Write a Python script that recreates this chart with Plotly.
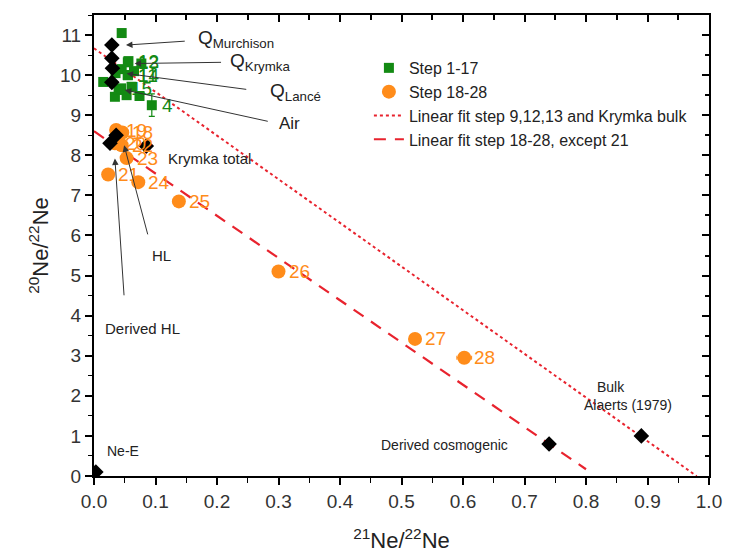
import plotly.graph_objects as go

# ---------------- data ----------------
step1_labels = ["1", "2", "3", "4", "5", "6", "7", "8", "9", "10", "11", "12", "13", "14", "15", "16", "17"]
step1_x = [0.045, 0.015, 0.034, 0.094, 0.053, 0.074, 0.040, 0.061, 0.045, 0.065, 0.055, 0.056, 0.055, 0.055, 0.044, 0.077, 0.035]
step1_y = [11.05, 9.83, 9.46, 9.25, 9.50, 9.48, 9.63, 9.71, 10.15, 10.10, 10.00, 10.35, 10.32, 10.00, 9.67, 10.29, 10.05]
step1_err = [0.05, 0.05, 0.05, 0.28, 0.05, 0.05, 0.05, 0.05, 0.05, 0.05, 0.05, 0.05, 0.05, 0.05, 0.05, 0.05, 0.05]
step1_shown = ["", "", "", "4", "", "", "", "", "", "", "11", "12", "13", "14", "15", "", ""]

step2_labels = ["18", "19", "20", "21", "22", "23", "24", "25", "26", "27", "28"]
step2_x = [0.046, 0.036, 0.034, 0.023, 0.045, 0.053, 0.072, 0.138, 0.300, 0.522, 0.602]
step2_y = [8.57, 8.63, 8.30, 7.52, 8.25, 7.93, 7.33, 6.85, 5.10, 3.42, 2.95]
step2_errx = [0.003, 0.003, 0.003, 0.003, 0.003, 0.003, 0.003, 0.003, 0.004, 0.006, 0.012]

ref_names = ["Q Murchison", "Q Krymka", "Q Lancé", "Air", "HL", "Derived HL", "Krymka total",
             "Ne-E", "Derived cosmogenic", "Bulk Alaerts (1979)"]
ref_x = [0.029, 0.029, 0.030, 0.029, 0.036, 0.026, 0.085, 0.003, 0.740, 0.890]
ref_y = [10.75, 10.42, 10.17, 9.82, 8.50, 8.30, 8.23, 0.10, 0.80, 1.00]

# linear fits: intercept, slope, x extent
fit1_name = "Linear fit step 9,12,13 and Krymka bulk"
fit1_intercept, fit1_slope, fit1_xmax = 10.67, -10.89, 0.98
fit2_name = "Linear fit step 18-28, except 21"
fit2_intercept, fit2_slope, fit2_xmax = 8.60, -10.54, 0.80

x_ticks = [0.0, 0.1, 0.2, 0.3, 0.4, 0.5, 0.6, 0.7, 0.8, 0.9, 1.0]
y_ticks = list(range(0, 12))

GREEN = "#138a13"
ORANGE = "#ff8c1a"
RED = "#e8232e"
FONT = "Liberation Sans, Arial, sans-serif"

fig = go.Figure()

# fit lines
fx1 = [0.0, fit1_xmax]
fig.add_trace(go.Scatter(x=fx1, y=[fit1_intercept + fit1_slope * v for v in fx1], mode="lines",
                         line=dict(color=RED, width=2, dash="dot"), name=fit1_name, legendrank=3))
fx2 = [0.0, fit2_xmax]
fig.add_trace(go.Scatter(x=fx2, y=[fit2_intercept + fit2_slope * v for v in fx2], mode="lines",
                         line=dict(color=RED, width=2.2, dash="12px,9px"), name=fit2_name, legendrank=4))

# step 1-17
fig.add_trace(go.Scatter(x=step1_x, y=step1_y, mode="markers", name="Step 1-17",
                         marker=dict(symbol="square", size=10, color=GREEN),
                         error_y=dict(type="data", array=step1_err, color=GREEN, thickness=1.2, width=3),
                         text=step1_labels, legendrank=1))
# step 18-28
fig.add_trace(go.Scatter(x=step2_x, y=step2_y, mode="markers", name="Step 18-28",
                         marker=dict(symbol="circle", size=14, color=ORANGE),
                         error_x=dict(type="data", array=step2_errx, color=ORANGE, thickness=1, width=2),
                         text=step2_labels, legendrank=2))
# reference components
fig.add_trace(go.Scatter(x=ref_x, y=ref_y, mode="markers", showlegend=False, text=ref_names,
                         marker=dict(symbol="diamond", size=12, color="black")))

# invisible trace for the mirrored (top/right) axes
fig.add_trace(go.Scatter(x=[None], y=[None], xaxis="x2", yaxis="y2", showlegend=False, hoverinfo="skip"))

ann = []
for lab, x, y in zip(step1_shown, step1_x, step1_y):
    if lab:
        ann.append(dict(x=x, y=y, text=lab, showarrow=False, xanchor="left", xshift=8,
                        font=dict(family=FONT, size=19, color=GREEN)))
for lab, x, y in zip(step2_labels, step2_x, step2_y):
    ann.append(dict(x=x, y=y, text=lab, showarrow=False, xanchor="left", xshift=8,
                    font=dict(family=FONT, size=19, color=ORANGE)))

# arrows (head, tail) in data coordinates
arrows = [((0.052, 10.75), (0.150, 10.85)),
          ((0.066, 10.29), (0.209, 10.32)),
          ((0.053, 10.04), (0.250, 9.64)),
          ((0.050, 9.63), (0.285, 8.84)),
          ((0.049, 8.25), (0.088, 5.99)),
          ((0.034, 7.92), (0.049, 4.47))]
for (hx, hy), (tx, ty) in arrows:
    ann.append(dict(x=hx, y=hy, ax=tx, ay=ty, axref="x", ayref="y", showarrow=True,
                    arrowhead=2, arrowsize=1.3, arrowwidth=1, arrowcolor="#333", text=""))

txt = "#222"
labels = [
    (0.166, 10.9, "Q<sub>Murchison</sub>", 19),
    (0.218, 10.32, "Q<sub>Krymka</sub>", 19),
    (0.283, 9.57, "Q<sub>Lancé</sub>", 19),
    (0.297, 8.8, "Air", 17),
    (0.117, 7.93, "Krymka total", 15),
    (0.091, 5.49, "HL", 15),
    (0.015, 3.69, "Derived HL", 15),
    (0.018, 0.62, "Ne-E", 14),
    (0.463, 0.77, "Derived cosmogenic", 14),
    (0.814, 2.22, "Bulk", 14),
    (0.794, 1.77, "Alaerts (1979)", 14),
]
for x, y, t, s in labels:
    ann.append(dict(x=x, y=y, text=t, showarrow=False, xanchor="left",
                    font=dict(family=FONT, size=s, color=txt)))

axis_common = dict(showgrid=False, zeroline=False, showline=True, linecolor="black", linewidth=2,
                   mirror=True, ticks="outside", ticklen=7, tickwidth=1.5, tickcolor="black",
                   tickfont=dict(family=FONT, size=19, color="#333"), automargin=False)

fig.update_layout(
    width=720, height=546,
    margin=dict(l=86, r=19, t=7, b=78),
    paper_bgcolor="white", plot_bgcolor="white",
    font=dict(family=FONT, color="#222"),
    xaxis=dict(range=[0, 1.0], tickvals=x_ticks, ticktext=[f"{v:.1f}" for v in x_ticks],
               minor=dict(dtick=0.05, ticks="outside", ticklen=5, tickcolor="black", tickwidth=1.2),
               title=dict(text="<sup>21</sup>Ne/<sup>22</sup>Ne", font=dict(family=FONT, size=22, color="#222"),
                          standoff=22),
               **axis_common),
    yaxis=dict(range=[0, 11.5], tickvals=y_ticks,
               minor=dict(dtick=0.5, ticks="outside", ticklen=4, tickcolor="black", tickwidth=1.2),
               title=dict(text="<sup>20</sup>Ne/<sup>22</sup>Ne", font=dict(family=FONT, size=22, color="#222"),
                          standoff=5),
               **axis_common),
    xaxis2=dict(range=[0, 1.0], overlaying="x", side="top", showticklabels=False, showgrid=False,
                zeroline=False, showline=False, ticks="inside", ticklen=7, tickwidth=1.5, tickcolor="black",
                dtick=0.1, tick0=0, minor=dict(dtick=0.05, ticks="inside", ticklen=5, tickcolor="black")),
    yaxis2=dict(range=[0, 11.5], overlaying="y", side="right", showticklabels=False, showgrid=False,
                zeroline=False, showline=False, ticks="inside", ticklen=7, tickwidth=1.5, tickcolor="black",
                dtick=1, tick0=0, minor=dict(dtick=0.5, ticks="inside", ticklen=4, tickcolor="black")),
    legend=dict(x=0.447, y=0.922, xanchor="left", yanchor="top", bgcolor="rgba(0,0,0,0)",
                font=dict(family=FONT, size=16, color="#222"), tracegroupgap=0, itemwidth=30),
    annotations=ann,
    showlegend=True,
)

fig.write_html("out.html")
